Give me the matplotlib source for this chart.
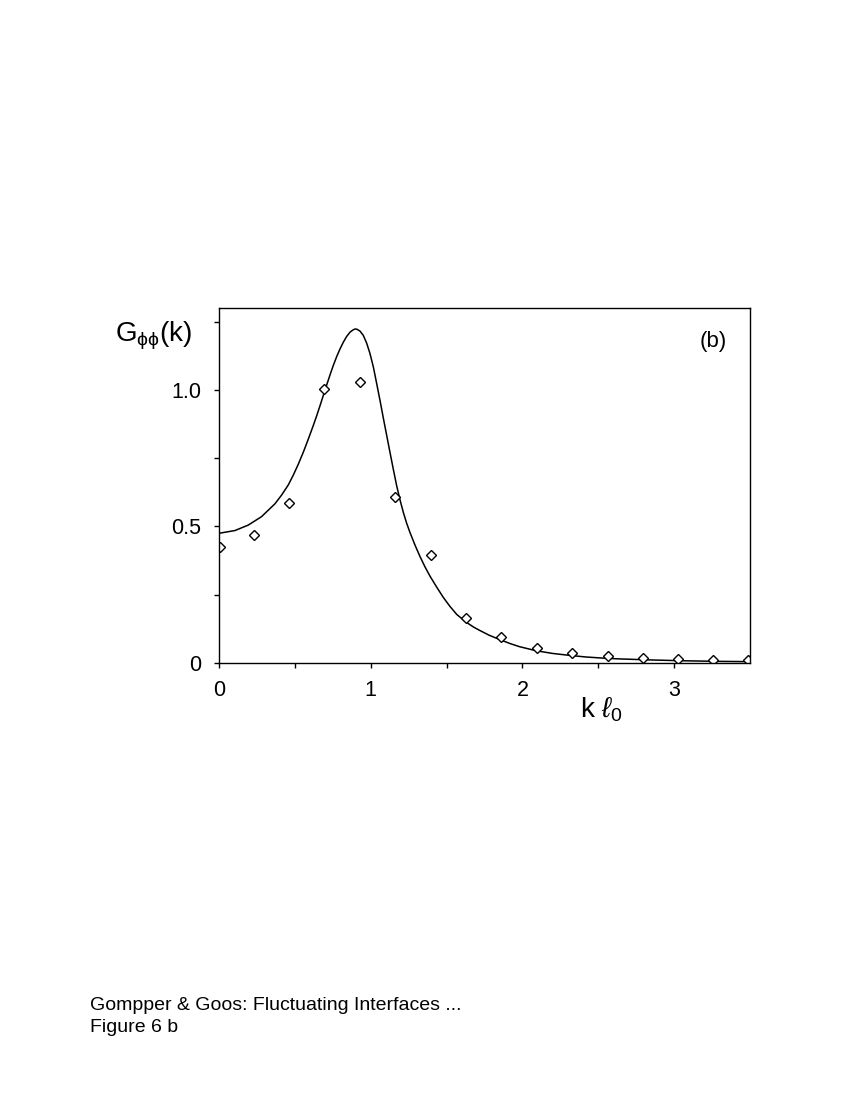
import matplotlib
matplotlib.use("Agg")
import matplotlib.pyplot as plt

plt.rcParams['font.family'] = ['Liberation Sans', 'DejaVu Sans']
plt.rcParams['mathtext.fontset'] = 'custom'
plt.rcParams['mathtext.rm'] = 'Liberation Sans'
plt.rcParams['mathtext.it'] = 'Liberation Sans:italic'

# simulation points (diamonds)
k_data = [0.007, 0.231, 0.461, 0.694, 0.93, 1.16, 1.395, 1.628, 1.859, 2.094,
          2.329, 2.562, 2.793, 3.028, 3.259, 3.49]
g_data = [0.426, 0.469, 0.587, 1.002, 1.029, 0.609, 0.394, 0.166, 0.095, 0.055,
          0.035, 0.027, 0.019, 0.015, 0.012, 0.011]

# theory curve
curve_k = [0.0, 0.105, 0.193, 0.281, 0.369, 0.413, 0.457, 0.490, 0.523, 0.556,
           0.589, 0.622, 0.644, 0.666, 0.688, 0.710, 0.732, 0.754, 0.776, 0.798,
           0.820, 0.842, 0.865, 0.885, 0.897, 0.91, 0.93, 0.951, 0.973, 0.995,
           1.018, 1.040, 1.062, 1.083, 1.105, 1.127, 1.149, 1.171, 1.193, 1.215,
           1.237, 1.259, 1.292, 1.325, 1.358, 1.391, 1.435, 1.479, 1.523, 1.567,
           1.628, 1.68, 1.72, 1.78, 1.85, 1.92, 1.98, 2.09, 2.2, 2.31,
           2.42, 2.53, 2.64, 2.75, 2.86, 3.08, 3.3, 3.5]
curve_g = [0.475, 0.485, 0.505, 0.536, 0.583, 0.615, 0.652, 0.688, 0.728, 0.772,
           0.820, 0.870, 0.905, 0.942, 0.980, 1.018, 1.055, 1.090, 1.122, 1.150,
           1.175, 1.196, 1.212, 1.220, 1.223, 1.222, 1.215, 1.200, 1.172, 1.134,
           1.083, 1.022, 0.960, 0.898, 0.835, 0.772, 0.71, 0.650, 0.598, 0.552,
           0.512, 0.478, 0.432, 0.39, 0.352, 0.318, 0.278, 0.24, 0.207, 0.178,
           0.150, 0.131, 0.119, 0.102, 0.086, 0.071, 0.06, 0.045, 0.035, 0.028,
           0.022, 0.018, 0.015, 0.013, 0.011, 0.008, 0.006, 0.005]

fig = plt.figure(figsize=(8.53, 11.03), dpi=100)
ax = fig.add_axes([0.2567, 0.3989, 0.6225, 0.3219])

ax.plot(curve_k, curve_g, color='black', lw=1.1)
ax.plot(k_data, g_data, linestyle='none', marker='D', ms=5.2,
        mfc='white', mec='black', mew=1.0)

ax.set_xlim(0, 3.5)
ax.set_ylim(0, 1.3)
ax.set_xticks([0, 1, 2, 3])
ax.set_xticklabels(['0', '1', '2', '3'])
ax.set_xticks([0.5, 1.5, 2.5], minor=True)
ax.set_yticks([0, 0.5, 1.0])
ax.set_yticklabels(['0', '0.5', '1.0'])
ax.set_yticks([0.25, 0.75, 1.25], minor=True)
ax.tick_params(which='both', direction='out', length=3.5, width=1.0,
               labelsize=15.5, color='black')
ax.tick_params(axis='y', pad=9.5)
ax.tick_params(axis='x', pad=9)
for sp in ax.spines.values():
    sp.set_linewidth(1.0)

ax.text(0.93, 0.905, '(b)', transform=ax.transAxes, fontsize=16,
        ha='center', va='center')

fig.text(115 / 853, 1 - 342 / 1103, r'G$_{\mathrm{ϕϕ}}$(k)', fontsize=20,
         ha='left', va='baseline')
fig.text(580 / 853, 1 - 718 / 1103, r'k $\ell_0$', fontsize=20,
         ha='left', va='baseline')

fig.text(90 / 853, 1 - 1010 / 1103, 'Gompper & Goos: Fluctuating Interfaces ...',
         fontsize=14, ha='left', va='baseline')
fig.text(90 / 853, 1 - 1032 / 1103, 'Figure 6 b', fontsize=14,
         ha='left', va='baseline')

fig.savefig('out.png', dpi=100)
